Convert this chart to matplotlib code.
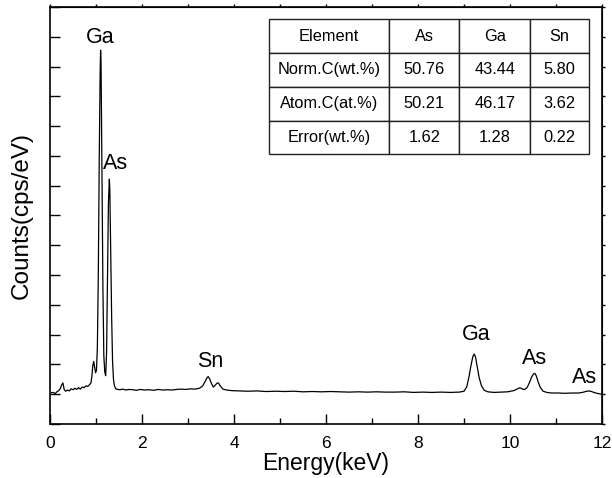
import matplotlib.pyplot as plt

plt.rcParams['font.family'] = ['Liberation Sans', 'DejaVu Sans']

# EDS spectrum trace (energy in keV, counts in cps/eV)
energy = [0.03, 0.07, 0.11, 0.15, 0.19, 0.22, 0.25, 0.28, 0.31, 0.34, 0.38, 0.42,
          0.46, 0.50, 0.54, 0.58, 0.62, 0.66, 0.70, 0.74, 0.78, 0.82, 0.86, 0.89,
          0.91, 0.93, 0.95, 0.97, 0.99, 1.01, 1.03, 1.05, 1.07, 1.09, 1.10, 1.11,
          1.13, 1.15, 1.17, 1.19, 1.21, 1.23, 1.25, 1.27, 1.29, 1.30, 1.32, 1.34,
          1.36, 1.38, 1.40, 1.43, 1.47, 1.52, 1.58, 1.65, 1.72, 1.80, 1.88, 1.96,
          2.05, 2.15, 2.25, 2.35, 2.45, 2.55, 2.65, 2.75, 2.85, 2.95, 3.05, 3.15,
          3.25, 3.32, 3.38, 3.42, 3.44, 3.47, 3.51, 3.55, 3.59, 3.63, 3.66, 3.70,
          3.76, 3.84, 3.95, 4.10, 4.30, 4.50, 4.70, 4.90, 5.10, 5.30, 5.50, 5.70,
          5.90, 6.10, 6.30, 6.50, 6.70, 6.90, 7.10, 7.30, 7.50, 7.70, 7.90, 8.10,
          8.30, 8.50, 8.70, 8.90, 9.00, 9.06, 9.11, 9.15, 9.19, 9.22, 9.25, 9.29,
          9.33, 9.38, 9.44, 9.52, 9.65, 9.80, 9.95, 10.08, 10.15, 10.20, 10.23, 10.27,
          10.32, 10.37, 10.42, 10.47, 10.51, 10.54, 10.57, 10.61, 10.66, 10.72, 10.80, 10.90,
          11.05, 11.20, 11.35, 11.50, 11.60, 11.67, 11.72, 11.77, 11.84, 11.92, 12.00]
counts = [1.05, 1.06, 1.02, 1.08, 1.12, 1.18, 1.30, 1.38, 1.15, 1.10, 1.14, 1.11,
          1.18, 1.15, 1.20, 1.16, 1.22, 1.17, 1.24, 1.22, 1.28, 1.26, 1.32, 1.38,
          1.60, 1.95, 2.10, 1.90, 1.72, 1.80, 2.60, 5.00, 8.80, 11.80, 12.55, 12.10,
          8.50, 4.60, 2.30, 1.75, 1.62, 2.40, 4.80, 7.40, 8.22, 7.90, 5.80, 3.60,
          2.10, 1.50, 1.28, 1.18, 1.16, 1.15, 1.17, 1.14, 1.16, 1.15, 1.13, 1.16,
          1.14, 1.15, 1.13, 1.16, 1.14, 1.15, 1.14, 1.16, 1.17, 1.16, 1.18, 1.17,
          1.20, 1.28, 1.45, 1.57, 1.59, 1.52, 1.36, 1.24, 1.30, 1.37, 1.38, 1.28,
          1.17, 1.14, 1.12, 1.11, 1.10, 1.11, 1.09, 1.10, 1.09, 1.10, 1.08, 1.09,
          1.08, 1.09, 1.08, 1.07, 1.08, 1.07, 1.08, 1.07, 1.07, 1.08, 1.06, 1.07,
          1.06, 1.07, 1.06, 1.07, 1.10, 1.25, 1.60, 1.95, 2.25, 2.35, 2.25, 1.90,
          1.55, 1.28, 1.13, 1.08, 1.06, 1.07, 1.08, 1.12, 1.17, 1.21, 1.21, 1.17,
          1.16, 1.22, 1.38, 1.58, 1.68, 1.70, 1.62, 1.42, 1.22, 1.10, 1.06, 1.04,
          1.04, 1.03, 1.04, 1.04, 1.07, 1.10, 1.11, 1.09, 1.05, 1.02, 1.00]

# peak labels
peak_names = ['Ga', 'As', 'Sn', 'Ga', 'As', 'As']
peak_x = [1.09, 1.43, 3.48, 9.26, 10.53, 11.63]
peak_y = [12.99, 8.76, 2.09, 2.99, 2.20, 1.57]

# composition table
col_labels = ['Element', 'As', 'Ga', 'Sn']
row_norm = ['Norm.C(wt.%)', '50.76', '43.44', '5.80']
row_atom = ['Atom.C(at.%)', '50.21', '46.17', '3.62']
row_err = ['Error(wt.%)', '1.62', '1.28', '0.22']

fig = plt.figure(figsize=(6.12, 4.78), dpi=100)
ax = fig.add_axes([0.0817, 0.113, 0.902, 0.8724])

ax.plot(energy, counts, color='black', lw=0.9)

for name, x, y in zip(peak_names, peak_x, peak_y):
    ax.text(x, y, name, fontsize=15.5, ha='center', va='center')

ax.set_xlim(0, 12)
ax.set_ylim(0, 14)
ax.set_xticks(range(0, 13, 2))
ax.set_xticks(range(1, 12, 2), minor=True)
ax.set_yticks(range(0, 15))
ax.set_yticklabels([])
ax.tick_params(axis='both', which='major', direction='in', length=7.2, width=1.0,
               labelsize=12.5, pad=8.5)
ax.tick_params(axis='x', which='minor', direction='in', length=4, width=1.0)
for s in ax.spines.values():
    s.set_linewidth(1.2)

# short outward ticks on top and right
top = ax.secondary_xaxis('top')
top.set_xticks(range(0, 13))
top.tick_params(direction='out', length=2.5, width=1.0, labeltop=False)
right = ax.secondary_yaxis('right')
right.set_yticks(range(0, 15))
right.tick_params(direction='out', length=2.5, width=1.0, labelright=False)

ax.set_xlabel('Energy(keV)', fontsize=16.5, labelpad=1)
ax.set_ylabel('Counts(cps/eV)', fontsize=17.5, labelpad=4)

tbl = ax.table(cellText=[col_labels, row_norm, row_atom, row_err],
               colWidths=[0.375, 0.219, 0.221, 0.185],
               cellLoc='center', bbox=[0.397, 0.647, 0.580, 0.323])
tbl.auto_set_font_size(False)
tbl.set_fontsize(11.8)
for cell in tbl.get_celld().values():
    cell.set_linewidth(1.0)
    cell.set_edgecolor('#222222')

fig.savefig('out.png', dpi=100)
